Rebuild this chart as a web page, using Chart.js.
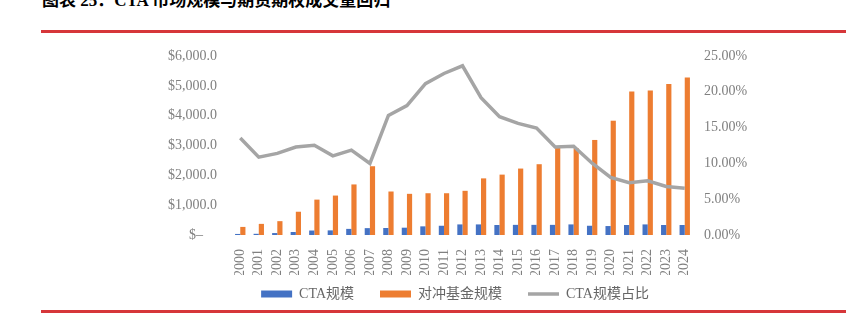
<!DOCTYPE html>
<html>
<head>
<meta charset="utf-8">
<script src="https://cdn.jsdelivr.net/npm/chart.js@4"></script>
<style>
  html, body { margin: 0; padding: 0; background: #fff; }
  body { width: 867px; height: 326px; position: relative; overflow: hidden; }
  #title {
    position: absolute; left: 42px; top: -8px;
    font: bold 17px/17px 'Liberation Serif', 'Noto Sans CJK SC', serif;
    color: #000; white-space: nowrap;
  }
  .rule { position: absolute; left: 41px; width: 805px; height: 3px; background: #d6363a; }
  #wrap { position: absolute; left: 0; top: 0; width: 867px; height: 326px; }
</style>
</head>
<body>
<div id="title">图表 25：CTA 市场规模与期货期权成交量回归</div>
<div class="rule" style="top:30px"></div>
<div class="rule" style="top:310px"></div>
<div id="wrap"><canvas id="ctaChart"></canvas></div>
<script>
const years = ['2000','2001','2002','2003','2004','2005','2006','2007','2008','2009','2010','2011','2012',
               '2013','2014','2015','2016','2017','2018','2019','2020','2021','2022','2023','2024'];
// CTA 规模 (十亿美元)
const ctaSize = [35, 40, 65, 100, 150, 155, 205, 230, 235, 245, 290, 310, 355,
                 355, 335, 340, 340, 340, 355, 310, 300, 335, 355, 335, 335];
// 对冲基金规模 (十亿美元)
const hedgeSize = [271, 373, 464, 780, 1186, 1322, 1695, 2305, 1458, 1380, 1400, 1400, 1481,
                   1898, 2024, 2227, 2373, 2925, 2905, 3186, 3831, 4814, 4847, 5061, 5278];
// CTA 规模占比 (%)
const ctaShare = [13.56, 10.88, 11.40, 12.29, 12.53, 11.06, 11.86, 9.99, 16.70, 18.08, 21.14, 22.56, 23.63,
                  19.17, 16.53, 15.58, 14.93, 12.29, 12.39, 10.03, 8.05, 7.30, 7.58, 6.78, 6.54];

const tickFont = { family: "'Liberation Serif', serif", size: 14 };
const grey = '#808080';

new Chart(document.getElementById('ctaChart'), {
    type: 'bar',
    data: {
        labels: years,
        datasets: [
            {
                label: 'CTA规模',
                data: ctaSize,
                backgroundColor: '#4472c4',
                borderWidth: 0,
                categoryPercentage: 0.56,
                barPercentage: 1.0,
                yAxisID: 'y',
                order: 2
            },
            {
                label: '对冲基金规模',
                data: hedgeSize,
                backgroundColor: '#ed7d31',
                borderWidth: 0,
                categoryPercentage: 0.56,
                barPercentage: 1.0,
                yAxisID: 'y',
                order: 2
            },
            {
                type: 'line',
                label: 'CTA规模占比',
                data: ctaShare,
                borderColor: '#a5a5a5',
                backgroundColor: '#a5a5a5',
                borderWidth: 3.5,
                pointRadius: 0,
                tension: 0,
                yAxisID: 'y1',
                order: 1
            }
        ]
    },
    options: {
        responsive: true,
        maintainAspectRatio: false,
        animation: false,
        layout: { padding: { left: 150, right: 107, top: 56, bottom: 15 } },
        plugins: {
            tooltip: { enabled: false },
            legend: {
                position: 'bottom',
                labels: {
                    color: '#666',
                    font: { family: "'Liberation Serif', 'Noto Sans CJK SC', serif", size: 14 },
                    usePointStyle: true,
                    pointStyleWidth: 31,
                    boxHeight: 7,
                    padding: 12,
                    sort: (a, b) => a.datasetIndex - b.datasetIndex,
                    generateLabels(chart) {
                        const items = Chart.defaults.plugins.legend.labels.generateLabels(chart);
                        return items.map(item => {
                            const ds = chart.data.datasets[item.datasetIndex];
                            item.pointStyle = ds.type === 'line' ? 'line' : 'rect';
                            // widen the gap between legend entries
                            if (item.datasetIndex < items.length - 1) item.text += '\u2003';
                            return item;
                        });
                    }
                }
            }
        },
        scales: {
            x: {
                grid: { display: false },
                border: { display: false },
                ticks: { color: grey, font: tickFont, minRotation: 90, maxRotation: 90, padding: 6, autoSkip: false },
                afterFit(scale) { scale.height = 40; }
            },
            y: {
                position: 'left',
                min: 0,
                max: 6000,
                grid: { display: false, drawTicks: false },
                border: { display: false },
                ticks: {
                    stepSize: 1000,
                    color: grey,
                    font: tickFont,
                    padding: 14,
                    callback: v => v === 0 ? '$–\u2002\u2002' : '$' + v.toLocaleString('en-US', { minimumFractionDigits: 1 })
                },
                afterFit(scale) { scale.width = 81; }
            },
            y1: {
                position: 'right',
                min: 0,
                max: 25,
                grid: { display: false, drawTicks: false },
                border: { display: false },
                ticks: {
                    stepSize: 5,
                    color: grey,
                    font: tickFont,
                    padding: 10,
                    callback: v => v.toFixed(2) + '%'
                },
                afterFit(scale) { scale.width = 66; }
            }
        }
    }
});
</script>
</body>
</html>
